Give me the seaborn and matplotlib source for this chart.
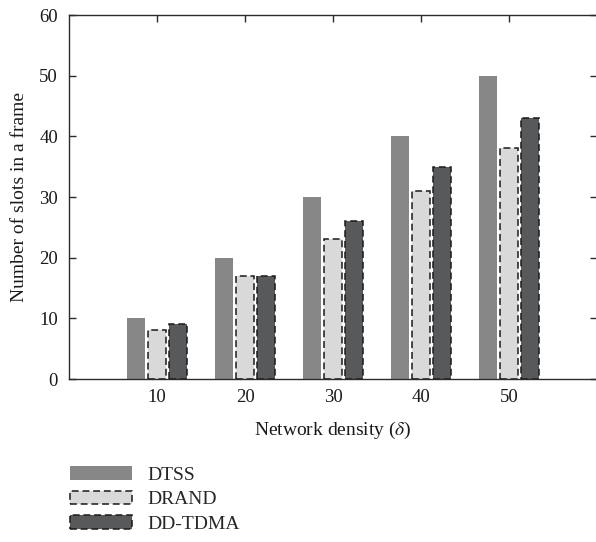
import matplotlib
matplotlib.use("Agg")
import matplotlib.pyplot as plt
import seaborn as sns
import pandas as pd
from matplotlib.patches import Patch

densities = [10, 20, 30, 40, 50]
dtss = [10, 20, 30, 40, 50]
drand = [8, 17, 23, 31, 38]
ddtdma = [9, 17, 26, 35, 43]
series_names = ["DTSS", "DRAND", "DD-TDMA"]
colors = ["#878787", "#d9d9da", "#58595b"]
yticks = [0, 10, 20, 30, 40, 50, 60]

rows = []
for name, vals in zip(series_names, [dtss, drand, ddtdma]):
    for d, v in zip(densities, vals):
        rows.append({"density": d, "value": v, "series": name})
df = pd.DataFrame(rows)

sns.set_style("white")
plt.rcParams["font.family"] = ["Liberation Serif", "DejaVu Serif"]
plt.rcParams["mathtext.fontset"] = "stix"

fig = plt.figure(figsize=(5.96, 5.42), dpi=100)
ax = fig.add_axes([0.1158, 0.3007, 0.886, 0.6716])

sns.barplot(data=df, x="density", y="value", hue="series", hue_order=series_names,
            palette=colors, native_scale=True, width=0.72, gap=0.15,
            errorbar=None, legend=False, ax=ax, saturation=1)

dash = (0, (4.5, 2.5))
styles = [("none", "solid"), ("#1a1a1a", dash), ("#1a1a1a", dash)]
for cont, (ec, ls) in zip(ax.containers, styles):
    for p in cont.patches:
        if ec == "none":
            p.set_edgecolor("none")
            p.set_linewidth(0)
        else:
            p.set_edgecolor(ec)
            p.set_linestyle(ls)
            p.set_linewidth(1.1)

ax.set_xlim(0, 60)
ax.set_ylim(0, 60)
ax.set_xticks(densities)
ax.set_xticklabels([str(d) for d in densities])
ax.set_yticks(yticks)
ax.set_yticklabels([str(t) for t in yticks])
for s in ax.spines.values():
    s.set_visible(True)
    s.set_color("#2b2b2b")
    s.set_linewidth(1.0)
ax.tick_params(axis="both", direction="in", length=5, width=1, color="#2b2b2b",
               top=True, right=True, bottom=True, left=True,
               labelsize=13.5, pad=7, labelcolor="#1a1a1a")
ax.tick_params(axis="y", pad=8)
ax.set_xlabel(r"Network density ($\delta$)", fontsize=14, labelpad=10, color="#1a1a1a")
ax.set_ylabel("Number of slots in a frame", fontsize=14, labelpad=8, color="#1a1a1a")
ax.grid(False)

handles = [
    Patch(facecolor=colors[0], edgecolor="none", label="DTSS"),
    Patch(facecolor=colors[1], edgecolor="#1a1a1a", linestyle=dash, linewidth=1.1, label="DRAND"),
    Patch(facecolor=colors[2], edgecolor="#1a1a1a", linestyle=dash, linewidth=1.1, label="DD-TDMA"),
]
fig.legend(handles=handles, loc="upper left", bbox_to_anchor=(0.117, 0.14),
           frameon=False, fontsize=14, handlelength=3.2, handleheight=0.7,
           labelspacing=0.35, handletextpad=0.8, borderaxespad=0, borderpad=0)

fig.savefig("out.png", dpi=100)
